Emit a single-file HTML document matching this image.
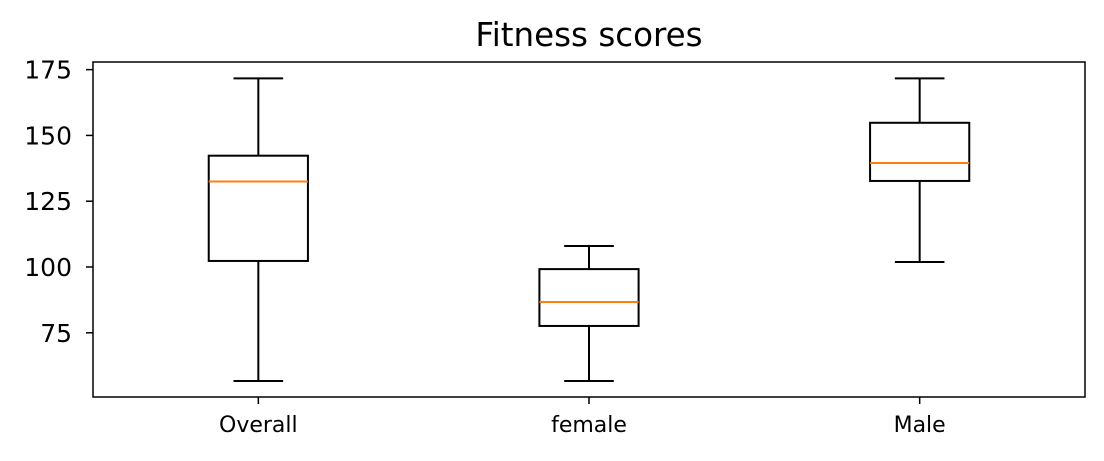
<!DOCTYPE html>
<html><head><meta charset="utf-8"><style>
body{margin:0;background:#fff;}
svg text{font-family:"DejaVu Sans","Liberation Sans",sans-serif;}
</style></head><body>
<svg id="chart" width="1104" height="456" xmlns="http://www.w3.org/2000/svg">
<rect width="1104" height="456" fill="#fff"/>
<text x="589" y="46" font-size="32.5" text-anchor="middle">Fitness scores</text>
<g id="marks"></g>
<rect x="93" y="62" width="992" height="335" fill="none" stroke="#000" stroke-width="1.5"/>
</svg>
<script>
const categories = ["Overall", "female", "Male"];
const whiskerLow = [56.7, 56.7, 101.9];
const q1 = [102.3, 77.6, 132.7];
const medians = [132.5, 86.7, 139.5];
const q3 = [142.3, 99.2, 154.8];
const whiskerHigh = [171.7, 108, 171.7];
const yTicks = [75, 100, 125, 150, 175];

const L=93,R=1085,T=62,B=397;
const yMin=50.6,yMax=177.9;
function y(v){return B-(v-yMin)/(yMax-yMin)*(B-T);}
function x(i){return L+(i+1-0.5)/3*(R-L);}
const NS="http://www.w3.org/2000/svg";
const g=document.getElementById('marks');
function el(tag,attrs,parent){const e=document.createElementNS(NS,tag);for(const k in attrs)e.setAttribute(k,attrs[k]);(parent||g).appendChild(e);return e;}
function line(x1,y1,x2,y2,c,w){return el('line',{x1,y1,x2,y2,stroke:c||'#000','stroke-width':w||2});}

yTicks.forEach(t=>{
  const tk=line(L-7,y(t),L,y(t),'#000',1.5);
  
  
  const tx=el('text',{x:L-21,y:y(t)+9,'font-size':'25','text-anchor':'end'});
  tx.textContent=t;
  
  
});
const bw=(R-L)/3*0.3, cw=bw/2;
categories.forEach((c,i)=>{
  const cx=x(i);
  const grp=el('g',{});
  
  
  [[cx,y(whiskerLow[i]),cx,y(q1[i])],[cx,y(q3[i]),cx,y(whiskerHigh[i])],
   [cx-cw/2,y(whiskerLow[i]),cx+cw/2,y(whiskerLow[i])],[cx-cw/2,y(whiskerHigh[i]),cx+cw/2,y(whiskerHigh[i])]]
   .forEach(a=>{const l=el('line',{x1:a[0],y1:a[1],x2:a[2],y2:a[3],stroke:'#000','stroke-width':2},grp);
     
     });
  const r=el('rect',{x:cx-bw/2,y:y(q3[i]),width:bw,height:y(q1[i])-y(q3[i]),fill:'none',stroke:'#000','stroke-width':2},grp);
  
  
  const m=el('line',{x1:cx-bw/2,y1:y(medians[i]),x2:cx+bw/2,y2:y(medians[i]),stroke:'#ff7f0e','stroke-width':2},grp);
  
  
  const tk=line(cx,B,cx,B+7,'#000',1.5);
  
  
  const tx=el('text',{x:cx,y:B+35,'font-size':'22','text-anchor':'middle'});
  tx.textContent=c;
  
  
});
</script>
</body></html>
